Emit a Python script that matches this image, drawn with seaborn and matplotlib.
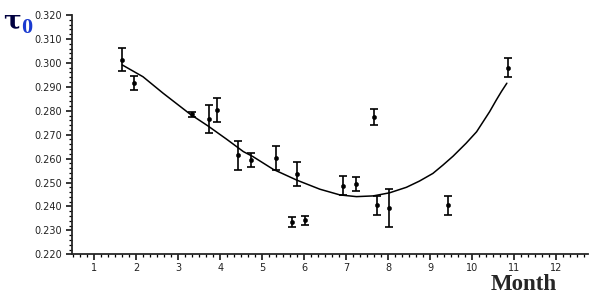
"""
Seasonal variation of tau_0 by month, with a fitted trend curve.
"""
import pandas as pd
import matplotlib.pyplot as plt
from matplotlib.ticker import MultipleLocator, FormatStrFormatter
import seaborn as sns

# --- measured points (month, tau_0, error half-width) ---
months = [1.66, 1.95, 3.33, 3.73, 3.93, 4.42, 4.72, 5.32, 5.83, 5.71,
          6.01, 6.91, 7.23, 7.72, 8.02, 9.41, 7.65, 10.84]
tau0 = [0.3014, 0.2915, 0.2785, 0.2765, 0.2804, 0.2614, 0.2593, 0.2603, 0.2535, 0.2335,
        0.2342, 0.2486, 0.2494, 0.2405, 0.2394, 0.2405, 0.2774, 0.2980]
tau0_err = [0.005, 0.003, 0.001, 0.006, 0.005, 0.006, 0.003, 0.005, 0.005, 0.002,
            0.002, 0.004, 0.003, 0.004, 0.008, 0.004, 0.0034, 0.004]

# --- trend curve ---
curve_months = [1.67, 2.16, 2.64, 3.28, 3.71, 4.15, 4.55, 4.78, 5.26, 5.82, 6.37,
                6.85, 7.24, 7.64, 8.03, 8.43, 8.74, 9.06, 9.30, 9.54, 9.85,
                10.10, 10.41, 10.57, 10.69, 10.82]
curve_tau0 = [0.2991, 0.2942, 0.2873, 0.2786, 0.2736, 0.2681, 0.2629, 0.2608, 0.2555,
              0.2510, 0.2472, 0.2448, 0.2441, 0.2444, 0.2457, 0.2480, 0.2506, 0.2538,
              0.2573, 0.2610, 0.2664, 0.2712, 0.2796, 0.2845, 0.2880, 0.2915]

month_ticks = list(range(1, 13))

df = pd.DataFrame({"month": months, "tau0": tau0, "err": tau0_err})
curve = pd.DataFrame({"month": curve_months, "tau0": curve_tau0})

sns.set_style("ticks")
fig = plt.figure(figsize=(5.89, 2.96), dpi=100)
ax = fig.add_axes([0.1222, 0.1409, 0.876, 0.8084])

sns.lineplot(data=curve, x="month", y="tau0", color="black", linewidth=1.1, ax=ax)
ax.errorbar(df["month"], df["tau0"], yerr=df["err"], fmt="none",
            ecolor="black", elinewidth=1.2, capsize=3, capthick=1.2)
sns.scatterplot(data=df, x="month", y="tau0", color="black", s=10,
                edgecolor="black", ax=ax, zorder=3)

ax.set_xlim(0.47, 12.75)
ax.set_ylim(0.220, 0.320)
ax.set_xticks(month_ticks)
ax.xaxis.set_minor_locator(MultipleLocator(1 / 6))
ax.yaxis.set_major_locator(MultipleLocator(0.010))
ax.yaxis.set_minor_locator(MultipleLocator(0.002))
ax.yaxis.set_major_formatter(FormatStrFormatter("%.3f"))

ax.tick_params(axis="both", which="major", labelsize=7, length=4, width=1.1,
               color="black", labelcolor="#222222", direction="out")
ax.tick_params(axis="both", which="minor", length=2.5, width=0.9, color="black",
               direction="out")
ax.tick_params(axis="x", pad=2)
ax.tick_params(axis="y", pad=3)

sns.despine(ax=ax)
ax.spines["left"].set_linewidth(1.3)
ax.spines["bottom"].set_linewidth(1.3)
ax.set_xlabel("")
ax.set_ylabel("")

fig.text(0.005, 0.905, "τ", fontsize=19, color="#000040", fontweight="bold",
         family="DejaVu Serif", va="baseline")
fig.text(0.036, 0.889, "0", fontsize=16, color="#1a3ad0", fontweight="bold",
         family="Liberation Serif", va="baseline")
fig.text(0.890, 0.040, "Month", fontsize=16.5, fontweight="bold",
         family="Liberation Serif", ha="center", va="center")

fig.savefig("out.png", dpi=100)
